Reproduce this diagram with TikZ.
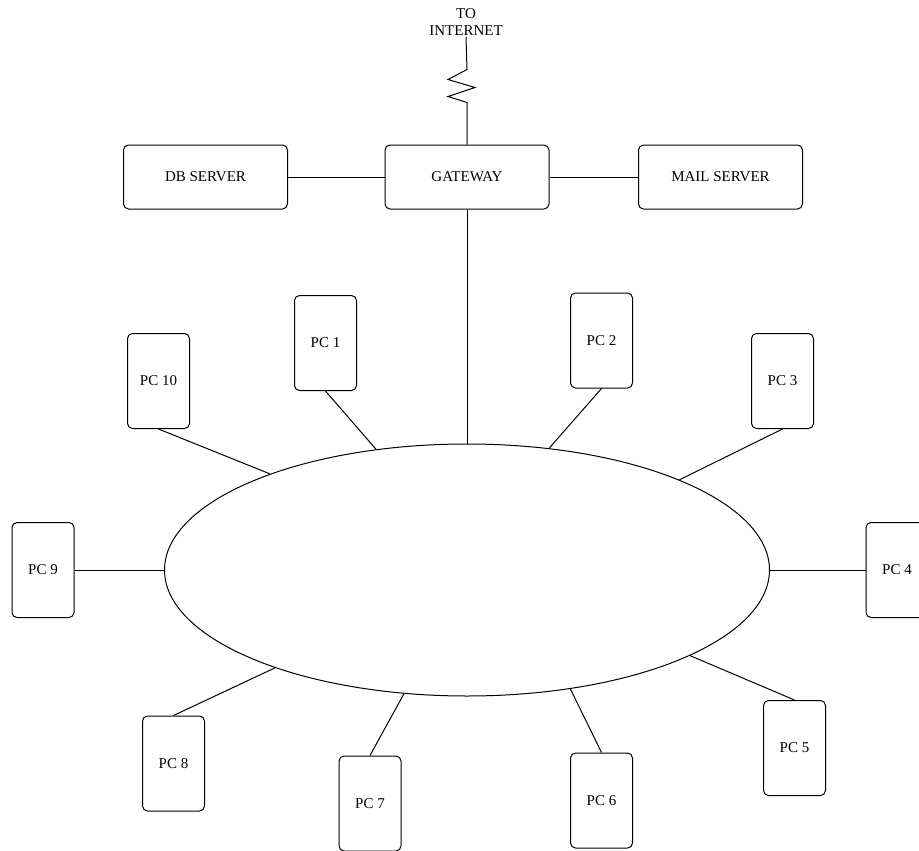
\documentclass[tikz,border=0pt]{standalone}
\usepackage{fontspec}
\setmainfont{Liberation Serif}
\usetikzlibrary{shapes.geometric}

\tikzset{
  pcbox/.style={draw, rounded corners=5pt, minimum width=62pt, minimum height=95pt, inner sep=0pt},
  srvbox/.style={draw, rounded corners=5pt, minimum width=164pt, minimum height=64pt}
}

\begin{document}
\begin{tikzpicture}[x=1pt, y=-1pt, line width=1pt,
  every node/.style={font=\fontsize{15}{17}\selectfont}]
  \useasboundingbox (0,0) rectangle (919,851);
  \node (net) [align=center, inner sep=1pt] at (466,22) {TO\\INTERNET};
  \node (gw)   [srvbox] at (467,177)   {GATEWAY};
  \node (db)   [srvbox] at (205.5,177) {DB SERVER};
  \node (mail) [srvbox] at (720.5,177) {MAIL SERVER};
  \node (lan) [ellipse, draw, minimum width=605pt, minimum height=252pt, inner sep=0pt]
    at (467,570) {};
  % workstations round the ring
  \node (pc1)  [pcbox] at (325.5,343) {PC 1};
  \node (pc2)  [pcbox] at (601.5,340.5) {PC 2};
  \node (pc3)  [pcbox] at (782.5,381) {PC 3};
  \node (pc4)  [pcbox] at (897,570) {PC 4};
  \node (pc5)  [pcbox] at (794.5,748) {PC 5};
  \node (pc6)  [pcbox] at (601.5,800.5) {PC 6};
  \node (pc7)  [pcbox] at (370,803.5) {PC 7};
  \node (pc8)  [pcbox] at (173.5,763.5) {PC 8};
  \node (pc9)  [pcbox] at (43,570) {PC 9};
  \node (pc10) [pcbox] at (158.5,381) {PC 10};
  % uplink
  \draw (gw.north) -- ++(0,-42) -- ++(-19,-6) -- ++(27,-9) -- ++(-27,-8) -- ++(19,-10) -- (net.south);
  \draw (db.east) -- (gw.west);
  \draw (gw.east) -- (mail.west);
  \draw (gw.south) -- (lan.90);
  \draw (pc1.south)  -- (lan.127.9);
  \draw (pc2.south)  -- (lan.56.2);
  \draw (pc3.south)  -- (lan.23.4);
  \draw (pc4.west)   -- (lan.0);
  \draw (pc5.north)  -- (lan.-21.2);
  \draw (pc6.north)  -- (lan.-49.4);
  \draw (pc7.north)  -- (lan.-117.7);
  \draw (pc8.north)  -- (lan.-153.7);
  \draw (pc9.east)   -- (lan.180);
  \draw (pc10.south) -- (lan.154.7);
\end{tikzpicture}
\end{document}
